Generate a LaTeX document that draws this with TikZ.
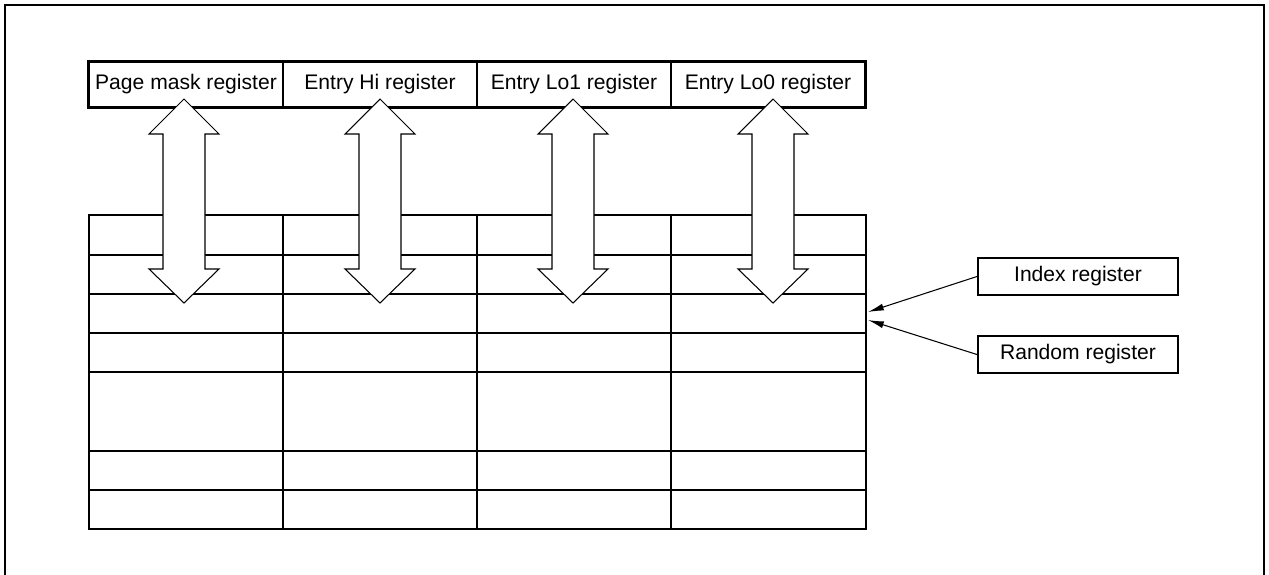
\documentclass[tikz,border=0pt]{standalone}
\usepackage{fontspec}
\setmainfont{Liberation Sans}
\usetikzlibrary{arrows.meta}
\begin{document}
\begin{tikzpicture}[x=0.02cm,y=-0.02cm,
  thickline/.style={line width=1.2pt},
  thinline/.style={line width=0.6pt},
  regcell/.style={draw,thinline,minimum width=194*0.02cm,minimum height=45*0.02cm,inner sep=0pt,font=\fontsize{12}{14}\selectfont},
  sidebox/.style={draw,thickline,minimum width=200*0.02cm,minimum height=37*0.02cm,inner sep=0pt,font=\fontsize{12}{14}\selectfont},
  bus/.style={draw,thinline,fill=white},
  ptr/.style={thinline,-{Latex[length=9pt,width=4pt]}}]
\useasboundingbox (0,0) rectangle (1269,575);

% outer frame
\draw[thickline] (5,580) -- (5,5) -- (1264,5) -- (1264,580);

% register row on top
\node[regcell] (pm)  at (186,84.5) {Page mask register};
\node[regcell] (ehi) at (380,84.5) {Entry Hi register};
\node[regcell] (el1) at (574,84.5) {Entry Lo1 register};
\node[regcell] (el0) at (768,84.5) {Entry Lo0 register};
\draw[thickline] (pm.north west) rectangle (el0.south east);

% TLB table
\coordinate (tnw) at (89,215);
\coordinate (tse) at (866,529);
\foreach \c in {283,477,671} \draw[thinline] (\c,215) -- (\c,529);
\foreach \r in {255,294,333,372,451,490} \draw[thinline] (89,\r) -- (866,\r);
\draw[thickline] (tnw) rectangle (tse);

% transfer arrows between registers and table
\foreach \cx in {184,380,573,773}
  \draw[bus] (\cx,99) -- (\cx+35,134) -- (\cx+21,134) -- (\cx+21,269) -- (\cx+35,269)
    -- (\cx,303) -- (\cx-35,269) -- (\cx-21,269) -- (\cx-21,134) -- (\cx-35,134) -- cycle;

% index and random registers
\node[sidebox] (idx) at (1078,276.5) {Index register};
\node[sidebox] (rnd) at (1078,354.5) {Random register};
\coordinate (pidx) at (868,312);
\coordinate (prnd) at (868,320);
\draw[ptr] (idx.west) -- (pidx);
\draw[ptr] (rnd.west) -- (prnd);
\end{tikzpicture}
\end{document}
